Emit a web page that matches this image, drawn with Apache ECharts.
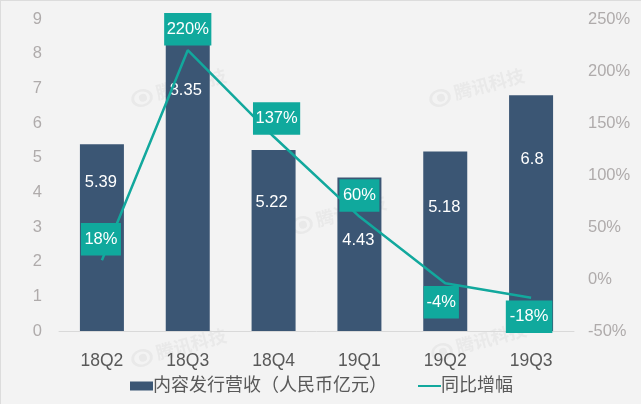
<!DOCTYPE html>
<html>
<head>
<meta charset="utf-8">
<style>
html,body{margin:0;padding:0;background:#f3f3f3;}
#main{width:641px;height:404px;}
</style>
<script src="https://cdn.jsdelivr.net/npm/echarts@6/dist/echarts.min.js"></script>
</head>
<body>
<div id="main"></div>
<script>
var quarters=['18Q2','18Q3','18Q4','19Q1','19Q2','19Q3'];
var revenue=[5.39,8.35,5.22,4.43,5.18,6.8];
var growth=[18,220,137,60,-4,-18];
var revenueName='内容发行营收（人民币亿元）';
var growthName='同比增幅';
var watermarkText='腾讯科技';

//标签相对默认位置的偏移
var revenueLabelOffset=[[-1,-55],[-2,-96],[-2,-38],[-1,-14],[-1,-34],[1,-54]];
var growthLabelOffset=[[-1,-21],[0,-21],[3,-18],[0,-21],[-4,19],[-2,19]];
//增幅标签左右留白
var growthLabelPad=[3.5,2.5,2.5,3.5,3,4];
//水印位置
var watermarkPos=[[142,98],[440,98],[142,358],[302,225],[442,352]];

var fontName='"Liberation Sans","Noto Sans CJK SC",sans-serif';

function watermark(pos){
	return {
		type:'group',
		x:pos[0],
		y:pos[1],
		rotation:0.26,
		children:[
			{type:'ring',z:-1,shape:{cx:0,cy:0,r:11,r0:8},scaleY:0.8,style:{fill:'#e9e9e9'}},
			{type:'circle',z:-1,shape:{cx:1,cy:0,r:4},style:{fill:'#e9e9e9'}},
			{type:'text',z:-1,x:15,y:-10,style:{text:watermarkText,fill:'#e9e9e9',font:'bold 18px "Noto Sans CJK SC"'}}
		]
	};
}

var graphics=watermarkPos.map(watermark);
graphics.push({type:'rect',z:-1,shape:{x:0,y:0,width:641,height:1},style:{fill:'#dcdcdc'}});
graphics.push({type:'rect',z:-1,shape:{x:0,y:0,width:1,height:404},style:{fill:'#dcdcdc'}});

var option={
	animation:false,
	backgroundColor:'#f3f3f3',
	textStyle:{fontFamily:fontName},
	graphic:graphics,
	grid:{left:59,right:67,top:19,bottom:73},
	legend:{
		left:130,
		top:377,
		padding:0,
		itemWidth:23,
		itemHeight:9,
		itemGap:30,
		textStyle:{color:'#595959',fontSize:18,fontFamily:fontName,padding:[0,0,0,-5]},
		data:[
			{name:revenueName,icon:'rect'},
			{name:growthName,itemStyle:{opacity:0}}
		]
	},
	xAxis:{
		type:'category',
		data:quarters,
		axisTick:{show:false},
		axisLine:{lineStyle:{color:'#d9d9d9',width:1}},
		axisLabel:{color:'#595959',fontSize:17.5,margin:21,fontFamily:fontName}
	},
	yAxis:[
		{
			type:'value',
			min:0,
			max:9,
			interval:1,
			splitLine:{show:false},
			axisLine:{show:false},
			axisTick:{show:false},
			axisLabel:{color:'#afabab',fontSize:16.5,margin:17,padding:[4,0,0,0],fontFamily:fontName}
		},
		{
			type:'value',
			min:-50,
			max:250,
			interval:50,
			splitLine:{show:false},
			axisLine:{show:false},
			axisTick:{show:false},
			axisLabel:{color:'#afabab',fontSize:16.5,margin:14,padding:[4,0,0,0],formatter:'{value}%',fontFamily:fontName}
		}
	],
	series:[
		{
			name:revenueName,
			type:'bar',
			barWidth:44,
			barGap:'-100%',
			itemStyle:{color:'#3b5674'},
			data:revenue
		},
		{
			name:growthName,
			type:'line',
			yAxisIndex:1,
			symbol:'circle',
			symbolSize:0,
			lineStyle:{color:'#12a89d',width:2.5},
			itemStyle:{color:'#12a89d'},
			data:growth.map(function(v,i){
				return {value:v,label:{
					show:true,
					position:'inside',
					offset:growthLabelOffset[i],
					formatter:'{c}%',
					color:'#fff',
					fontSize:16.5,
					fontFamily:fontName,
					backgroundColor:'#10a99d',
					padding:[8,growthLabelPad[i]]
				}};
			})
		},
		{
			//透明柱，只用来把数值标签放到折线上面
			type:'bar',
			barWidth:44,
			barGap:'-100%',
			z:3,
			silent:true,
			itemStyle:{color:'transparent'},
			data:revenue.map(function(v,i){
				return {value:v,label:{show:true,position:'inside',offset:revenueLabelOffset[i],color:'#fff',fontSize:16.5,fontFamily:fontName}};
			})
		}
	]
};

var myChart=echarts.init(document.getElementById('main'));
myChart.setOption(option);
</script>
</body>
</html>
